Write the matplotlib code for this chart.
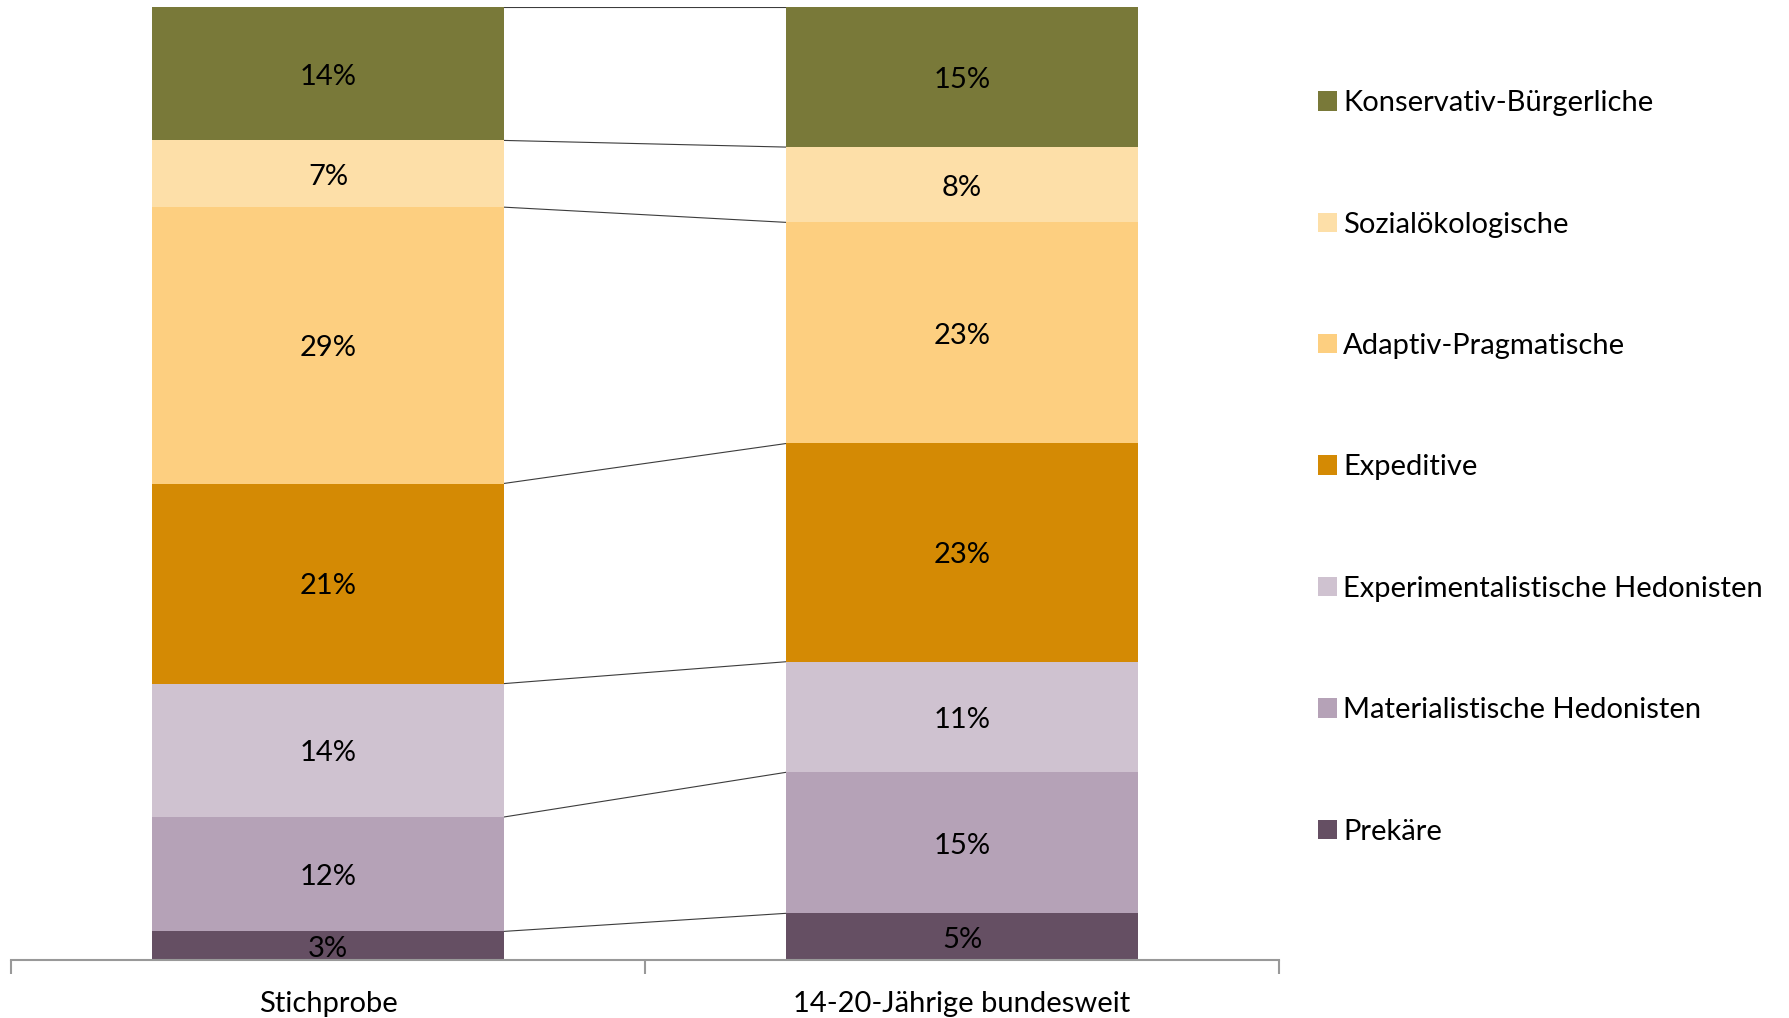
import numpy as np
import matplotlib.pyplot as plt
from matplotlib.patches import Patch

plt.rcParams['font.family'] = ['Lato', 'DejaVu Sans']

# data (bottom to top), shares in percent
groups = ['Stichprobe', '14-20-Jährige bundesweit']
segments = ['Prekäre', 'Materialistische Hedonisten', 'Experimentalistische Hedonisten',
            'Expeditive', 'Adaptiv-Pragmatische', 'Sozialökologische', 'Konservativ-Bürgerliche']
stichprobe = [3, 12, 14, 21, 29, 7, 14]
bundesweit = [4.9, 14.8, 11.6, 22.9, 23.2, 7.9, 14.7]
# printed labels
stichprobe_labels = ['3%', '12%', '14%', '21%', '29%', '7%', '14%']
bundesweit_labels = ['5%', '15%', '11%', '23%', '23%', '8%', '15%']
colors = ['#654f63', '#b5a2b7', '#cfc2d0', '#d48a04', '#fdcf80', '#fddfa8', '#797939']

values = np.array([stichprobe, bundesweit], dtype=float)
labels = [stichprobe_labels, bundesweit_labels]

fig = plt.figure(figsize=(17.89, 10.18), dpi=100)
ax = fig.add_axes([11/1789, 58/1018, 1268/1789, 953/1018])

x = np.arange(len(groups))
width = 0.554
bottom = np.zeros(len(groups))
for i, seg in enumerate(segments):
    ax.bar(x, values[:, i], width, bottom=bottom, color=colors[i], label=seg,
           edgecolor='none', zorder=2)
    for j in range(len(groups)):
        ax.text(x[j], bottom[j] + values[j, i] / 2 - 0.3, labels[j][i],
                ha='center', va='center', fontsize=21, color='black', zorder=3)
    bottom += values[:, i]

# connector lines between the bars
cum = np.cumsum(values, axis=1)
for k in range(cum.shape[1]):
    ax.plot([x[0] + width / 2, x[1] - width / 2], [cum[0, k], cum[1, k]],
            color='#3c3c3c', lw=0.8, zorder=1)

ax.set_xlim(-0.5, 1.5)
ax.set_ylim(0, 100)
for s in ['top', 'right', 'left']:
    ax.spines[s].set_visible(False)
ax.spines['bottom'].set_color('#999999')
ax.spines['bottom'].set_linewidth(1.5)
ax.set_yticks([])
ax.set_xticks([-0.5, 0.5, 1.5])
ax.set_xticklabels([])
ax.tick_params(axis='x', length=10, width=1.5, color='#999999', direction='out')
for j, g in enumerate(groups):
    ax.text(x[j], -4.6, g, ha='center', va='center', fontsize=21)

handles = [Patch(facecolor=colors[i], label=segments[i]) for i in range(len(segments))][::-1]
fig.legend(handles=handles, loc='upper left', bbox_to_anchor=(1292/1789, 1 - 64/1018),
           frameon=False, fontsize=21, handlelength=0.65, handleheight=0.65,
           handletextpad=0.2, labelspacing=3.27)

fig.savefig('out.png', dpi=100)
